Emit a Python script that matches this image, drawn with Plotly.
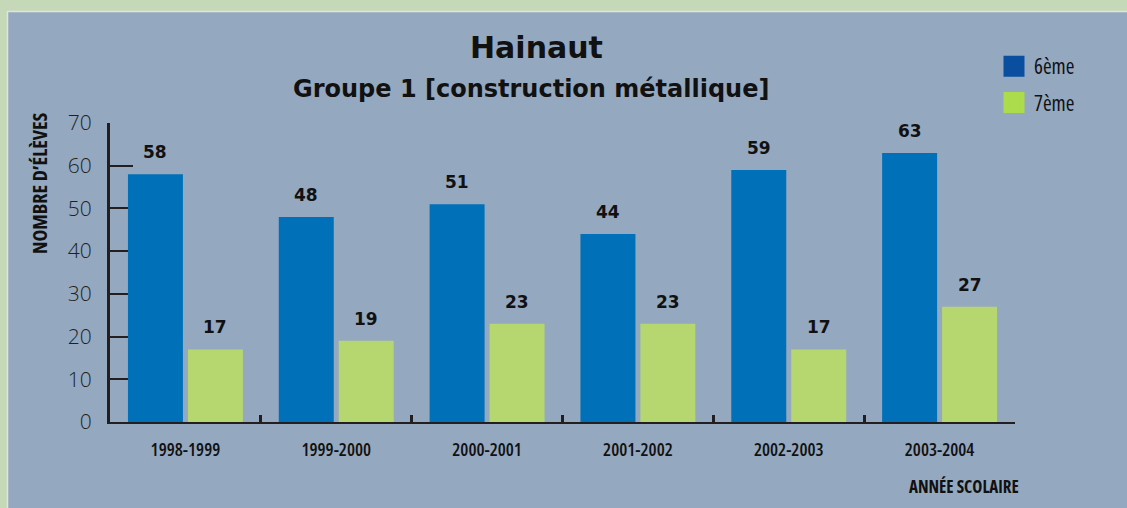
import plotly.graph_objects as go

# ---- data ----
years = ["1998-1999", "1999-2000", "2000-2001", "2001-2002", "2002-2003", "2003-2004"]
sixieme = [58, 48, 51, 44, 59, 63]
septieme = [17, 19, 23, 23, 17, 27]
series_names = ["6ème", "7ème"]
y_ticks = [0, 10, 20, 30, 40, 50, 60, 70]

# ---- style ----
W, H = 1127, 508
ML, MR, MT, MB = 110, 112, 123, 86
PW, PH = W - ML - MR, H - MT - MB
BORDER = "#c5d8b8"
PANEL = "#94a8c0"
BAR_BLUE = "#0071b9"
BAR_GREEN = "#b6d670"
LEG_BLUE = "#0a4f9f"
LEG_GREEN = "#acdb4b"
INK = "#231f20"
TXT = "#111111"
COND = "Open Sans, sans-serif"
WIDE = "DejaVu Sans, Verdana, sans-serif"


def cond(s):
    return f'<span style="font-stretch:condensed">{s}</span>'


def px2x(px):
    return (px - ML) / PW


def px2y(py):
    return (H - MB - py) / PH


fig = go.Figure()
for name, vals, col in [(series_names[0], sixieme, BAR_BLUE), (series_names[1], septieme, BAR_GREEN)]:
    fig.add_trace(go.Bar(x=years, y=vals, name=name, marker=dict(color=col, line=dict(width=0)),
                         showlegend=False))

# legend entries (squares)
for name, col in [(series_names[0], LEG_BLUE), (series_names[1], LEG_GREEN)]:
    fig.add_trace(go.Scatter(x=[None], y=[None], mode="markers", name=cond(name), legendgroup=name,
                             marker=dict(symbol="square", size=16, color=col,
                                         line=dict(color=col, width=5))))

# value labels
for vals, shift in [(sixieme, -30), (septieme, 30)]:
    for cat, v in zip(years, vals):
        fig.add_annotation(x=cat, y=v, xref="x", yref="y", text=f"<b>{v}</b>", showarrow=False,
                           xshift=shift, yshift=22, yanchor="middle",
                           font=dict(family=WIDE, size=17, color=TXT))

# titles
fig.add_annotation(x=px2x(536), y=px2y(48), xref="paper", yref="paper", text="<b>Hainaut</b>",
                   showarrow=False, xanchor="center", yanchor="middle",
                   font=dict(family=WIDE, size=30, color=TXT))
fig.add_annotation(x=px2x(531), y=px2y(89), xref="paper", yref="paper",
                   text="<b>Groupe 1 [construction métallique]</b>",
                   showarrow=False, xanchor="center", yanchor="middle",
                   font=dict(family=WIDE, size=24, color=TXT))
# axis titles
fig.add_annotation(x=px2x(39), y=px2y(183), xref="paper", yref="paper", text=cond("NOMBRE D\u2019ÉLÈVES"),
                   textangle=-90, showarrow=False, xanchor="center", yanchor="middle",
                   font=dict(family=COND, size=20, color=TXT, weight="bold"))
fig.add_annotation(x=px2x(1021), y=px2y(486), xref="paper", yref="paper", text=cond("ANNÉE SCOLAIRE"),
                   showarrow=False, xanchor="right", yanchor="middle",
                   font=dict(family=COND, size=17, color=TXT, weight="bold"))

# frame
fig.add_shape(type="rect", xref="paper", yref="paper", layer="below",
              x0=px2x(7.5), x1=px2x(W + 20), y0=px2y(11.5), y1=px2y(H + 20),
              fillcolor=PANEL, line=dict(color="#dde7d6", width=1.5))

fig.update_layout(
    width=W, height=H,
    margin=dict(l=ML, r=MR, t=MT, b=MB, pad=0),
    paper_bgcolor=BORDER, plot_bgcolor="rgba(0,0,0,0)",
    barmode="group", bargap=0.205, bargroupgap=0.083,
    legend=dict(x=px2x(994), y=px2y(46), xanchor="left", yanchor="top",
                bgcolor="rgba(0,0,0,0)", tracegroupgap=6,
                font=dict(family=COND, size=21, color=TXT, weight=500)),
    xaxis=dict(type="category", range=[-0.5, 5.5], showline=True, linecolor=INK, linewidth=2,
               ticks="inside", tickson="boundaries", ticklen=7, tickwidth=3, tickcolor=INK,
               showgrid=False, zeroline=False, ticklabelstandoff=10,
               tickvals=years, ticktext=[cond(y) for y in years],
               tickfont=dict(family=COND, size=18, color=TXT, weight=600)),
    yaxis=dict(range=[0, 70], tickvals=y_ticks, showline=True,
               linecolor=INK, linewidth=3, ticks="inside", ticklen=23, tickwidth=2, tickcolor=INK,
               showgrid=False, zeroline=False, layer="below traces", ticklabelstandoff=11,
               tickfont=dict(family="Open Sans, sans-serif", size=21, color=INK, weight=300)),
)

fig.write_html("out.html", config={"displayModeBar": False},
               post_script="document.body.style.margin='0';document.body.style.overflow='hidden';")
